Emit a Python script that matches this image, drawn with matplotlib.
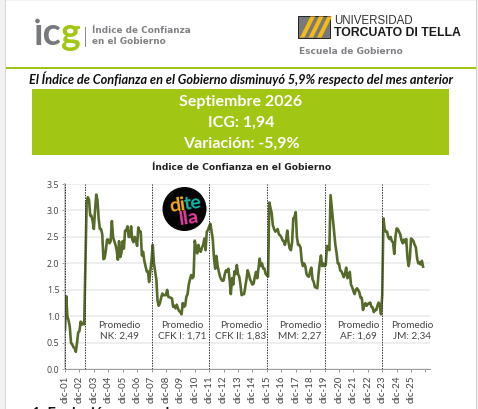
"""
Indice de Confianza en el Gobierno - monthly chart with report header
"""

import matplotlib
matplotlib.use("Agg")
import matplotlib.pyplot as plt
from matplotlib.patches import Rectangle, Polygon, Circle

W, H = 478, 409

# ============================================
# DATA (one value per month from dic-01)
# ============================================

icg_nk_before = [0.75, 1.38, 1.00, 0.92, 0.80, 0.50, 0.47, 0.42, 0.40, 0.33, 0.50, 0.70,
                 0.72, 0.90, 0.84, 0.88, 0.85]
icg_nk = [2.00, 3.15, 3.25, 3.20, 2.90, 2.90, 2.80, 2.65, 3.00, 3.30, 3.20, 2.85,
          2.65, 2.65, 2.55, 2.08, 2.10, 2.25, 2.45, 2.45, 2.38, 2.42, 2.80, 2.50,
          2.42, 2.35, 2.25, 2.07, 2.42, 2.12, 2.20, 2.42, 2.28, 2.62, 2.63, 2.70,
          2.50, 2.50, 2.70, 2.45, 2.40, 2.50, 2.45, 2.33, 2.68, 2.60, 2.60, 2.15,
          2.22, 2.05, 1.95, 1.85, 1.85, 1.65, 1.85, 2.05]
icg_cfk1 = [2.35, 2.00, 1.85, 1.70, 1.30, 1.20, 1.25, 1.35, 1.43, 1.40, 1.40, 1.40,
            1.50, 1.37, 1.36, 1.35, 1.34, 1.18, 1.20, 1.15, 1.22, 1.15, 1.10, 1.08,
            1.04, 1.25, 1.18, 1.20, 1.37, 1.42, 1.60, 1.70, 1.78, 1.72, 1.75, 2.43,
            2.30, 2.19, 2.35, 2.25, 2.22, 2.30, 2.35, 2.47, 2.25, 2.60, 2.63, 2.70]
icg_cfk2 = [2.75, 2.60, 2.45, 2.10, 1.90, 2.14, 1.95, 1.85, 1.75, 1.70, 1.67, 1.68,
            1.80, 1.87, 1.85, 1.90, 1.70, 1.42, 1.72, 1.60, 1.85, 1.80, 1.97, 1.80,
            1.75, 1.60, 1.40, 1.42, 1.42, 1.55, 1.70, 1.87, 1.80, 1.70, 1.65, 1.60,
            1.62, 1.75, 1.84, 1.72, 1.90, 2.09, 1.95, 2.00, 1.90, 1.90, 1.80, 1.78]
icg_mm = [1.75, 3.15, 3.05, 2.95, 2.72, 2.65, 2.60, 2.62, 2.65, 2.55, 2.53, 2.50,
          2.44, 2.42, 2.35, 2.45, 2.62, 2.40, 2.28, 2.25, 2.40, 2.85, 2.88, 2.97,
          2.50, 2.35, 2.35, 2.30, 2.05, 1.95, 2.00, 1.95, 1.80, 1.76, 1.75, 1.85,
          1.92, 1.70, 1.65, 1.55, 1.55, 1.53, 1.80, 2.00, 2.15, 1.95, 2.00, 1.95]
icg_af = [1.97, 2.33, 2.30, 2.25, 3.29, 3.05, 2.82, 2.55, 2.35, 2.20, 2.00, 2.00,
          1.87, 1.85, 1.80, 1.74, 1.80, 1.92, 1.72, 1.75, 1.84, 1.60, 1.55, 1.48,
          1.42, 1.50, 1.53, 1.50, 1.45, 1.35, 1.35, 1.12, 1.20, 1.25, 1.20, 1.23,
          1.25, 1.26, 1.18, 1.17, 1.08, 1.12, 1.12, 1.20, 1.26, 1.20, 1.04, 1.40]
icg_jm = [2.85, 2.65, 2.60, 2.60, 2.50, 2.46, 2.50, 2.42, 2.40, 2.18, 2.50, 2.66,
          2.65, 2.60, 2.55, 2.44, 2.38, 2.45, 2.40, 2.46, 2.10, 1.95, 2.10, 2.47,
          2.45, 2.42, 2.35, 2.30, 2.10, 2.00, 2.02, 1.98, 2.05, 1.94]
icg = icg_nk_before + icg_nk + icg_cfk1 + icg_cfk2 + icg_mm + icg_af + icg_jm

year_labels = ["01", "02", "03", "04", "05", "06", "07", "08", "09", "10", "11", "12", "13",
               "14", "15", "16", "17", "18", "19", "20", "21", "22", "23", "24", "25"]
y_ticks = [0.0, 0.5, 1.0, 1.5, 2.0, 2.5, 3.0, 3.5]
# month index where each government starts
gov_starts = [0, 17, 72, 120, 168, 216, 264]
gov_notes = [("Promedio\nNK: 2,49", 119), ("Promedio\nCFK I: 1,71", 182), ("Promedio\nCFK II: 1,83", 241),
             ("Promedio\nMM: 2,27", 300), ("Promedio\nAF: 1,69", 358), ("Promedio\nJM: 2,34", 412)]

header_lines = ["Septiembre 2026", "ICG: 1,94", "Variación: -5,9%"]

GREEN = "#a2c614"
LINE = "#566b2a"

# ============================================
# PAGE BACKGROUND AND HEADER
# ============================================

fig = plt.figure(figsize=(W / 100, H / 100), dpi=100, facecolor="#f3f2f1")

page = fig.add_axes([0, 0, 1, 1], zorder=0)
page.set_xlim(0, W)
page.set_ylim(H, 0)
page.axis("off")
page.add_patch(Rectangle((6, 1), 470, H, color="white", lw=0))
page.add_patch(Rectangle((5, 0), 1.2, H, color="#d6d6d6", lw=0))
page.add_patch(Rectangle((476, 0), 1.2, H, color="#cfcfcf", lw=0))
page.add_patch(Rectangle((6, 66.5), 470, 2, color=GREEN, lw=0))

# icg logo
page.text(33.5, 45, "ıc", fontsize=27, color="#77797c", family="Lato", weight="bold", va="baseline")
page.add_patch(Circle((37.5, 21), 2.3, color="#77797c", lw=0))
page.text(60.5, 45, "g", fontsize=27, color=GREEN, family="Lato", weight="bold", va="baseline")
page.plot([85, 85], [27, 46], color="#888888", lw=0.7)
page.text(92, 30.5, "Índice de Confianza", fontsize=6.4, color="#808285", weight="bold", va="center")
page.text(92, 42, "en el Gobierno", fontsize=6.4, color="#808285", weight="bold", va="center")

# Torcuato Di Tella logo
page.add_patch(Rectangle((298, 16), 32, 22, facecolor="#77797c", edgecolor="#222222", lw=0.7))
for dx in [0, 8.5, 17]:
    page.add_patch(Polygon([[300 + dx, 37.5], [304.5 + dx, 37.5], [315 + dx, 16.5], [310.5 + dx, 16.5]],
                           color="#f6b90f", lw=0))
page.text(334, 21.5, "UNIVERSIDAD", fontsize=8.3, color="#333333", family="Liberation Sans", va="center")
page.text(334, 33.5, "TORCUATO DI TELLA", fontsize=8.8, color="#1a1a1a", family="Liberation Sans",
          weight="bold", va="center")
page.text(299, 52, "Escuela de Gobierno", fontsize=6.5, color="#808285", weight="bold", va="center")

# headline and green box
page.text(241, 79, "El Índice de Confianza en el Gobierno disminuyó 5,9% respecto del mes anterior",
          fontsize=9.15, style="italic", weight="bold", family="Lato", color="#111111", ha="center", va="center")
page.add_patch(Rectangle((32, 89), 417, 66, color=GREEN, lw=0))
for line, yy in zip(header_lines, [102, 123, 144]):
    page.text(241, yy, line, fontsize=11.5, weight="bold", family="Lato", color="white", ha="center", va="center")

page.text(242, 167, "Índice de Confianza en el Gobierno", fontsize=6.55, weight="bold", color="#222222",
          ha="center", va="center")

# cut off section title at the bottom
page.text(32, 414, "1. Evolución mensual", fontsize=10.5, weight="bold", family="Lato", color="#111111", va="center")

# ============================================
# CHART
# ============================================

left, right, top, bottom = 65, 430, 184, 369.3
ax = fig.add_axes([left / W, 1 - bottom / H, (right - left) / W, (bottom - top) / H], zorder=1)
ax.patch.set_alpha(0)
ax.set_xlim(0, (right - left) / 1.2016)
ax.set_ylim(0, 3.5)

ax.plot(range(len(icg)), icg, color=LINE, lw=1.9, solid_joinstyle="round", zorder=3)

for m in gov_starts:
    ax.axvline(m, color="#333333", lw=0.7, ls=(0, (1.5, 1.2)), zorder=4)

ax.set_yticks(y_ticks)
ax.set_yticklabels([f"{v:.1f}" for v in y_ticks], fontsize=6.4, color="#444444", family="Open Sans")
ax.yaxis.grid(True, color="#e9e9e9", lw=1.1)
ax.set_axisbelow(True)

tick_pos = [12 * i for i in range(len(year_labels) + 1)]
ax.set_xticks(tick_pos)
ax.set_xticklabels(["dic-" + y for y in year_labels] + [""], rotation=90, fontsize=7, color="#444444",
                   family="Lato")
ax.tick_params(axis="x", length=2.5, width=0.6, color="#888888", pad=2)
ax.tick_params(axis="y", length=2, width=0.6, color="#888888", pad=2)

for side in ["top", "right"]:
    ax.spines[side].set_visible(False)
ax.spines["bottom"].set_color("#999999")
ax.spines["bottom"].set_linewidth(0.7)
ax.spines["left"].set_color("#c8c8c8")
ax.spines["left"].set_linewidth(1.4)

# ============================================
# LABELS AND DI TELLA BADGE (on top of chart)
# ============================================

over = fig.add_axes([0, 0, 1, 1], zorder=2)
over.set_xlim(0, W)
over.set_ylim(H, 0)
over.axis("off")

for note, xx in gov_notes:
    over.text(xx, 331, note, fontsize=7.2, color="#444444", family="Lato", ha="center", va="center",
              linespacing=1.3)

over.add_patch(Circle((184.5, 209), 22, color="#050505", lw=0))
over.text(168.5, 205, "di", fontsize=14, color="#f6ad1b", family="Lato", weight="bold", va="center", rotation=8)
over.text(183, 203.5, "te", fontsize=14, color="#12b5a8", family="Lato", weight="bold", va="center", rotation=8)
over.text(178, 218, "lla", fontsize=14, color="#ec3ea4", family="Lato", weight="bold", va="center", rotation=8)

plt.savefig("out.png", dpi=100, facecolor=fig.get_facecolor())
